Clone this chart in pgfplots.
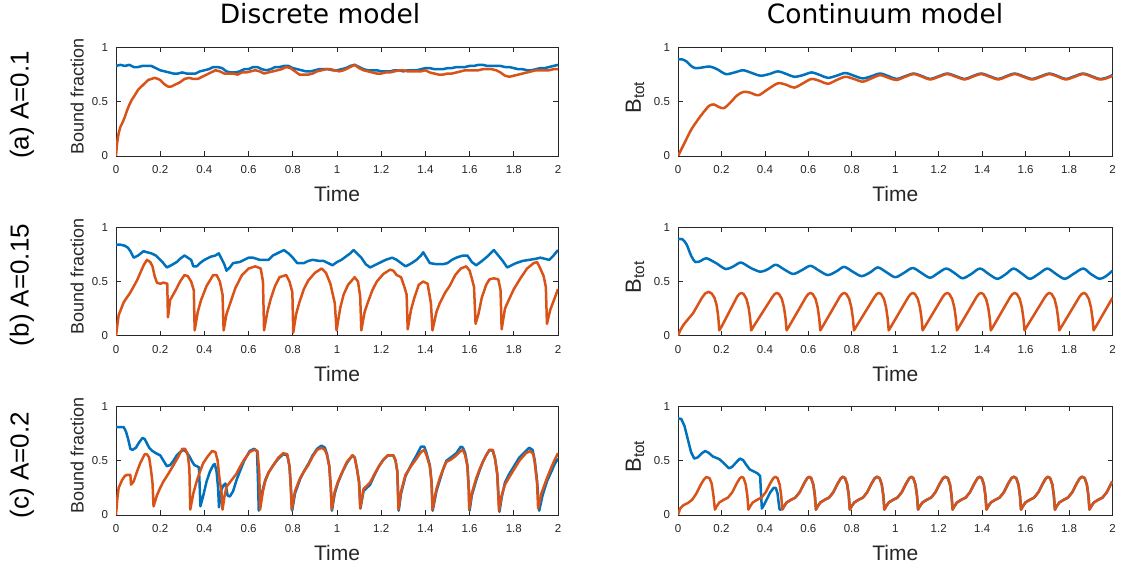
\documentclass[border=0pt]{standalone}
\usepackage{pgfplots}
\pgfplotsset{compat=1.18}
\usepackage{pgfplotstable}
\usepackage{fontspec}
\setmainfont{Liberation Sans}
\newfontfamily\dejavu{DejaVu Sans}
\definecolor{mblue}{RGB}{0,114,189}
\definecolor{morange}{RGB}{217,83,25}
\definecolor{axisgray}{RGB}{38,38,38}

\pgfplotstableread{
x y
0 0
0.01 0.06
0.025 0.09
0.045 0.11
0.065 0.14
0.085 0.20
0.105 0.28
0.12 0.33
0.13 0.35
0.145 0.34
0.155 0.29
0.163 0.18
0.17 0.05
0.178 0.08
0.19 0.115
0.21 0.14
0.23 0.16
0.25 0.21
0.27 0.29
0.285 0.34
0.295 0.352
0.302 0.34
0.312 0.28
0.319 0.18
0.324 0.05
0.332 0.08
0.344 0.115
0.364 0.14
0.384 0.16
0.404 0.21
0.424 0.29
0.439 0.34
0.449 0.352
0.458 0.34
0.468 0.28
0.475 0.18
0.48 0.05
0.488 0.08
0.5 0.115
0.52 0.14
0.54 0.16
0.56 0.21
0.58 0.29
0.595 0.34
0.605 0.352
0.613 0.34
0.623 0.28
0.63 0.18
0.635 0.05
0.643 0.08
0.655 0.115
0.675 0.14
0.695 0.16
0.715 0.21
0.735 0.29
0.75 0.34
0.76 0.352
0.769 0.34
0.779 0.28
0.786 0.18
0.791 0.05
0.799 0.08
0.811 0.115
0.831 0.14
0.851 0.16
0.871 0.21
0.891 0.29
0.906 0.34
0.916 0.352
0.928 0.34
0.938 0.28
0.945 0.18
0.95 0.05
0.958 0.08
0.97 0.115
0.99 0.14
1.01 0.16
1.03 0.21
1.05 0.29
1.065 0.34
1.075 0.352
1.083 0.34
1.093 0.28
1.1 0.18
1.105 0.05
1.113 0.08
1.125 0.115
1.145 0.14
1.165 0.16
1.185 0.21
1.205 0.29
1.22 0.34
1.23 0.352
1.242 0.34
1.252 0.28
1.259 0.18
1.264 0.05
1.272 0.08
1.284 0.115
1.304 0.14
1.324 0.16
1.344 0.21
1.364 0.29
1.379 0.34
1.389 0.352
1.398 0.34
1.408 0.28
1.415 0.18
1.42 0.05
1.428 0.08
1.44 0.115
1.46 0.14
1.48 0.16
1.5 0.21
1.52 0.29
1.535 0.34
1.545 0.352
1.557 0.34
1.567 0.28
1.574 0.18
1.579 0.05
1.587 0.08
1.599 0.115
1.619 0.14
1.639 0.16
1.659 0.21
1.679 0.29
1.694 0.34
1.704 0.352
1.713 0.34
1.723 0.28
1.73 0.18
1.735 0.05
1.743 0.08
1.755 0.115
1.775 0.14
1.795 0.16
1.815 0.21
1.835 0.29
1.85 0.34
1.86 0.352
1.872 0.34
1.882 0.28
1.889 0.18
1.894 0.05
1.902 0.08
1.914 0.115
1.934 0.14
1.954 0.16
1.974 0.21
1.994 0.29
2.0 0.31
}\ccorange

\pgfplotsset{
  panel/.style={
    width=442pt, height=108.5pt, scale only axis,
    xmin=0, xmax=2, ymin=0, ymax=1,
    xtick={0,0.2,0.4,0.6,0.8,1,1.2,1.4,1.6,1.8,2},
    ytick={0,0.5,1},
    tick align=inside, major tick length=5pt,
    axis line style={draw=axisgray, line width=0.8pt},
    every tick/.style={draw=axisgray, line width=0.8pt},
    tick label style={font=\fontsize{11.5}{13}\selectfont, text=axisgray},
    /pgf/number format/assume math mode=true,
    xticklabel style={yshift=-6pt},
    yticklabel style={xshift=-4.5pt},
    xlabel={Time},
    xlabel style={font=\fontsize{21}{24}\selectfont, text=axisgray, at={(axis description cs:0.5,0)}, anchor=center, yshift=-38pt},
    ylabel style={font=\fontsize{18}{20}\selectfont, text=axisgray, at={(axis description cs:-0.088,0.546)}, anchor=center},
    ylabel={Bound fraction},
    every axis plot/.append style={line width=2.5pt, line join=round},
  },
  rpanel/.style={panel, width=434.5pt,
    ylabel={B\textsubscript{tot}},
    ylabel style={font=\fontsize{22}{24}\selectfont, text=axisgray, at={(axis description cs:-0.099,0.54)}, anchor=center},
  },
}

\begin{document}
\begin{tikzpicture}
\path[use as bounding box] (0pt,0pt) rectangle (1127pt,570pt);

\node[font=\dejavu\fontsize{26.5}{30}\selectfont, anchor=base] at (320pt,546pt) {Discrete model};
\node[font=\dejavu\fontsize{26.5}{30}\selectfont, anchor=base] at (885pt,546pt) {Continuum model};

\node[font=\fontsize{26}{30}\selectfont, rotate=90, anchor=center] at (22pt,465pt) {(a) A=0.1};
\node[font=\fontsize{26}{30}\selectfont, rotate=90, anchor=center] at (22pt,285pt) {(b) A=0.15};
\node[font=\fontsize{26}{30}\selectfont, rotate=90, anchor=center] at (22pt,105pt) {(c) A=0.2};

% ---------- (a) discrete ----------
\begin{axis}[panel, at={(116pt,522.5pt)}, anchor=north west]
\addplot[mblue] coordinates {(0,0.83) (0.02,0.84) (0.04,0.83) (0.06,0.84) (0.08,0.82) (0.1,0.82) (0.12,0.83) (0.14,0.83) (0.16,0.83) (0.18,0.81) (0.2,0.79) (0.22,0.78) (0.24,0.77) (0.26,0.76) (0.28,0.76) (0.3,0.77) (0.32,0.76) (0.34,0.76) (0.36,0.76) (0.38,0.78) (0.4,0.79) (0.42,0.80) (0.44,0.82) (0.46,0.82) (0.48,0.81) (0.5,0.78) (0.52,0.77) (0.54,0.77) (0.56,0.78) (0.58,0.80) (0.6,0.80) (0.62,0.82) (0.64,0.82) (0.66,0.80) (0.68,0.79) (0.7,0.80) (0.72,0.82) (0.74,0.82) (0.76,0.83) (0.78,0.83) (0.8,0.81) (0.82,0.80) (0.84,0.79) (0.86,0.78) (0.88,0.78) (0.9,0.79) (0.92,0.80) (0.94,0.80) (0.96,0.80) (0.98,0.79) (1.0,0.79) (1.02,0.80) (1.04,0.81) (1.06,0.83) (1.08,0.84) (1.1,0.82) (1.12,0.80) (1.14,0.79) (1.16,0.79) (1.18,0.79) (1.2,0.78) (1.22,0.78) (1.24,0.78) (1.26,0.79) (1.28,0.79) (1.3,0.78) (1.32,0.79) (1.34,0.79) (1.36,0.79) (1.38,0.80) (1.4,0.81) (1.42,0.81) (1.44,0.80) (1.46,0.80) (1.48,0.80) (1.5,0.81) (1.52,0.81) (1.54,0.82) (1.56,0.82) (1.58,0.82) (1.6,0.83) (1.62,0.83) (1.64,0.84) (1.66,0.84) (1.68,0.83) (1.7,0.83) (1.72,0.83) (1.74,0.83) (1.76,0.82) (1.78,0.82) (1.8,0.81) (1.82,0.80) (1.84,0.80) (1.86,0.79) (1.88,0.79) (1.9,0.80) (1.92,0.81) (1.94,0.81) (1.96,0.82) (1.98,0.83) (2.0,0.84)};
\addplot[morange] coordinates {(0,0) (0.005,0.12) (0.012,0.21) (0.02,0.27) (0.03,0.31) (0.04,0.36) (0.05,0.42) (0.06,0.47) (0.072,0.52) (0.085,0.56) (0.1,0.61) (0.115,0.64) (0.13,0.67) (0.145,0.70) (0.16,0.71) (0.175,0.72) (0.19,0.71) (0.2,0.70) (0.21,0.68) (0.22,0.66) (0.235,0.64) (0.25,0.64) (0.27,0.66) (0.29,0.68) (0.31,0.71) (0.33,0.72) (0.35,0.71) (0.37,0.71) (0.39,0.73) (0.41,0.75) (0.43,0.77) (0.45,0.79) (0.47,0.78) (0.49,0.76) (0.51,0.76) (0.53,0.76) (0.55,0.75) (0.57,0.77) (0.59,0.77) (0.61,0.78) (0.63,0.79) (0.65,0.78) (0.67,0.76) (0.69,0.77) (0.71,0.78) (0.73,0.79) (0.75,0.80) (0.77,0.82) (0.79,0.81) (0.81,0.78) (0.83,0.75) (0.85,0.75) (0.87,0.75) (0.89,0.76) (0.91,0.78) (0.93,0.79) (0.95,0.80) (0.97,0.80) (0.99,0.79) (1.01,0.78) (1.03,0.79) (1.05,0.81) (1.07,0.83) (1.08,0.84) (1.1,0.81) (1.12,0.79) (1.14,0.78) (1.16,0.77) (1.18,0.76) (1.2,0.76) (1.22,0.77) (1.24,0.77) (1.26,0.78) (1.28,0.79) (1.3,0.79) (1.32,0.78) (1.34,0.78) (1.36,0.78) (1.38,0.78) (1.4,0.79) (1.42,0.77) (1.44,0.76) (1.46,0.75) (1.48,0.75) (1.5,0.76) (1.52,0.76) (1.54,0.77) (1.56,0.78) (1.58,0.79) (1.6,0.79) (1.62,0.79) (1.64,0.79) (1.66,0.80) (1.68,0.80) (1.7,0.80) (1.72,0.79) (1.74,0.77) (1.76,0.74) (1.78,0.73) (1.8,0.74) (1.82,0.75) (1.84,0.76) (1.86,0.77) (1.88,0.78) (1.9,0.79) (1.92,0.79) (1.94,0.79) (1.96,0.79) (1.98,0.80) (2.0,0.80)};
\end{axis}

% ---------- (a) continuum ----------
\begin{axis}[rpanel, at={(678pt,522.5pt)}, anchor=north west]
\addplot[mblue, smooth] coordinates {(0,0.89) (0.02,0.89) (0.04,0.87) (0.06,0.83) (0.08,0.81) (0.11,0.815) (0.145,0.825) (0.18,0.80) (0.22,0.755) (0.26,0.77) (0.30,0.79) (0.34,0.765) (0.38,0.74) (0.42,0.755) (0.46,0.78) (0.50,0.755) (0.535,0.73) (0.575,0.745) (0.615,0.77) (0.655,0.745) (0.69,0.72) (0.73,0.74) (0.77,0.765) (0.81,0.74) (0.85,0.715) (0.89,0.735) (0.93,0.76) (0.97,0.735) (1.005,0.71) (1.045,0.735) (1.085,0.76) (1.125,0.735) (1.16,0.71) (1.2,0.735) (1.24,0.76) (1.28,0.735) (1.32,0.71) (1.355,0.735) (1.395,0.76) (1.435,0.735) (1.475,0.71) (1.51,0.735) (1.55,0.76) (1.59,0.735) (1.63,0.71) (1.67,0.735) (1.71,0.76) (1.75,0.735) (1.785,0.71) (1.825,0.735) (1.865,0.76) (1.905,0.735) (1.94,0.71) (1.97,0.72) (2.0,0.745)};
\addplot[morange, smooth] coordinates {(0,0) (0.03,0.12) (0.06,0.24) (0.09,0.33) (0.12,0.41) (0.145,0.465) (0.165,0.475) (0.185,0.455) (0.21,0.44) (0.24,0.49) (0.27,0.555) (0.30,0.59) (0.33,0.585) (0.37,0.56) (0.41,0.61) (0.46,0.67) (0.50,0.655) (0.535,0.63) (0.575,0.67) (0.615,0.71) (0.655,0.69) (0.69,0.665) (0.73,0.70) (0.77,0.73) (0.81,0.71) (0.85,0.685) (0.89,0.715) (0.93,0.745) (0.97,0.72) (1.005,0.70) (1.045,0.73) (1.085,0.755) (1.125,0.73) (1.16,0.705) (1.2,0.73) (1.24,0.755) (1.28,0.73) (1.32,0.705) (1.355,0.73) (1.395,0.755) (1.435,0.73) (1.475,0.705) (1.51,0.73) (1.55,0.755) (1.59,0.73) (1.63,0.705) (1.67,0.73) (1.71,0.755) (1.75,0.73) (1.785,0.705) (1.825,0.73) (1.865,0.755) (1.905,0.73) (1.94,0.705) (1.97,0.715) (2.0,0.74)};
\end{axis}

% ---------- (b) discrete ----------
\begin{axis}[panel, at={(116pt,342.7pt)}, anchor=north west]
\addplot[mblue] coordinates {(0,0.84) (0.02,0.84) (0.04,0.83) (0.055,0.81) (0.065,0.78) (0.08,0.72) (0.1,0.74) (0.125,0.78) (0.14,0.77) (0.16,0.76) (0.18,0.74) (0.19,0.72) (0.21,0.68) (0.23,0.63) (0.25,0.65) (0.275,0.68) (0.29,0.71) (0.31,0.74) (0.325,0.72) (0.34,0.70) (0.35,0.64) (0.365,0.64) (0.38,0.67) (0.4,0.70) (0.43,0.73) (0.45,0.74) (0.465,0.76) (0.48,0.70) (0.49,0.66) (0.5,0.60) (0.515,0.63) (0.53,0.67) (0.56,0.68) (0.58,0.70) (0.6,0.72) (0.62,0.72) (0.65,0.70) (0.67,0.70) (0.69,0.70) (0.71,0.74) (0.73,0.76) (0.76,0.79) (0.78,0.76) (0.8,0.72) (0.82,0.67) (0.85,0.67) (0.87,0.69) (0.89,0.70) (0.92,0.69) (0.94,0.69) (0.96,0.67) (0.98,0.65) (1.0,0.68) (1.02,0.70) (1.04,0.73) (1.06,0.76) (1.075,0.79) (1.09,0.76) (1.11,0.72) (1.13,0.66) (1.15,0.63) (1.17,0.65) (1.19,0.67) (1.22,0.70) (1.25,0.72) (1.27,0.70) (1.29,0.67) (1.31,0.64) (1.33,0.66) (1.36,0.70) (1.38,0.74) (1.39,0.77) (1.405,0.72) (1.42,0.67) (1.45,0.66) (1.48,0.66) (1.5,0.67) (1.52,0.70) (1.54,0.72) (1.57,0.74) (1.59,0.74) (1.61,0.68) (1.63,0.65) (1.65,0.68) (1.68,0.73) (1.7,0.77) (1.71,0.79) (1.73,0.74) (1.75,0.69) (1.77,0.63) (1.79,0.65) (1.81,0.67) (1.84,0.69) (1.87,0.70) (1.9,0.71) (1.92,0.72) (1.94,0.71) (1.96,0.70) (1.98,0.74) (2.0,0.79)};
\addplot[morange] coordinates {(0,0) (0.012,0.19) (0.035,0.31) (0.065,0.40) (0.095,0.51) (0.125,0.65) (0.14,0.70) (0.155,0.68) (0.165,0.64) (0.175,0.55) (0.185,0.49) (0.2,0.48) (0.215,0.49) (0.232,0.48) (0.235,0.17) (0.245,0.33) (0.27,0.42) (0.29,0.50) (0.31,0.56) (0.325,0.55) (0.34,0.50) (0.352,0.42) (0.356,0.05) (0.37,0.22) (0.385,0.33) (0.41,0.46) (0.44,0.56) (0.455,0.56) (0.47,0.50) (0.482,0.38) (0.487,0.05) (0.5,0.20) (0.515,0.29) (0.54,0.44) (0.57,0.56) (0.6,0.62) (0.63,0.64) (0.655,0.62) (0.665,0.50) (0.67,0.05) (0.685,0.22) (0.7,0.34) (0.72,0.46) (0.74,0.54) (0.77,0.56) (0.785,0.50) (0.798,0.40) (0.802,0.03) (0.815,0.20) (0.83,0.31) (0.85,0.43) (0.87,0.51) (0.9,0.58) (0.93,0.62) (0.95,0.58) (0.97,0.48) (0.99,0.30) (0.998,0.05) (1.015,0.26) (1.03,0.38) (1.05,0.47) (1.08,0.54) (1.095,0.50) (1.105,0.36) (1.11,0.05) (1.125,0.22) (1.14,0.31) (1.16,0.42) (1.18,0.50) (1.21,0.57) (1.24,0.61) (1.255,0.60) (1.27,0.56) (1.29,0.54) (1.305,0.45) (1.315,0.38) (1.32,0.06) (1.335,0.24) (1.35,0.35) (1.37,0.47) (1.39,0.50) (1.41,0.48) (1.425,0.30) (1.432,0.05) (1.45,0.22) (1.465,0.30) (1.49,0.40) (1.51,0.46) (1.535,0.56) (1.56,0.62) (1.585,0.64) (1.6,0.60) (1.61,0.53) (1.62,0.45) (1.627,0.11) (1.64,0.20) (1.655,0.35) (1.675,0.47) (1.69,0.52) (1.71,0.53) (1.73,0.52) (1.74,0.42) (1.745,0.06) (1.76,0.25) (1.775,0.32) (1.8,0.43) (1.83,0.53) (1.86,0.62) (1.89,0.67) (1.905,0.68) (1.92,0.62) (1.935,0.55) (1.945,0.45) (1.95,0.11) (1.965,0.24) (1.98,0.32) (2.0,0.43)};
\end{axis}

% ---------- (b) continuum ----------
\begin{axis}[rpanel, at={(678pt,342.7pt)}, anchor=north west]
\addplot[mblue, smooth] coordinates {(0,0.89) (0.02,0.89) (0.04,0.84) (0.06,0.74) (0.08,0.68) (0.105,0.69) (0.13,0.715) (0.175,0.67) (0.22,0.615) (0.255,0.64) (0.29,0.675) (0.335,0.625) (0.38,0.59) (0.415,0.615) (0.45,0.655) (0.49,0.61) (0.53,0.57) (0.57,0.605) (0.61,0.645) (0.65,0.6) (0.69,0.56) (0.73,0.595) (0.765,0.635) (0.805,0.59) (0.845,0.55) (0.885,0.585) (0.92,0.63) (0.96,0.585) (1.0,0.54) (1.04,0.58) (1.08,0.625) (1.12,0.58) (1.16,0.535) (1.195,0.575) (1.235,0.62) (1.275,0.575) (1.31,0.53) (1.35,0.57) (1.39,0.62) (1.43,0.57) (1.47,0.525) (1.51,0.57) (1.545,0.62) (1.585,0.57) (1.62,0.525) (1.66,0.57) (1.70,0.62) (1.74,0.57) (1.78,0.525) (1.82,0.57) (1.865,0.62) (1.90,0.57) (1.94,0.525) (1.97,0.55) (2.0,0.60)};
\addplot[morange] coordinates {(0,0) (0.01,0.05) (0.025,0.10) (0.045,0.15) (0.07,0.21) (0.09,0.28) (0.11,0.35) (0.125,0.39) (0.14,0.405) (0.155,0.39) (0.168,0.35) (0.178,0.28) (0.185,0.18) (0.19,0.05)
(0.202,0.09) (0.272,0.36) (0.282,0.385) (0.292,0.395) (0.302,0.385) (0.315,0.34) (0.325,0.26) (0.332,0.16) (0.337,0.05)
(0.349,0.09) (0.435,0.36) (0.445,0.385) (0.455,0.395) (0.465,0.385) (0.478,0.34) (0.488,0.26) (0.495,0.16) (0.50,0.05)
(0.512,0.09) (0.59,0.36) (0.60,0.385) (0.61,0.395) (0.62,0.385) (0.633,0.34) (0.643,0.26) (0.65,0.16) (0.655,0.05)
(0.667,0.09) (0.745,0.36) (0.755,0.385) (0.765,0.395) (0.775,0.385) (0.788,0.34) (0.798,0.26) (0.805,0.16) (0.81,0.05)
(0.822,0.09) (0.905,0.36) (0.915,0.385) (0.925,0.395) (0.935,0.385) (0.948,0.34) (0.958,0.26) (0.965,0.16) (0.97,0.05)
(0.982,0.09) (1.061,0.36) (1.071,0.385) (1.081,0.395) (1.091,0.385) (1.104,0.34) (1.114,0.26) (1.121,0.16) (1.126,0.05)
(1.138,0.09) (1.219,0.36) (1.229,0.385) (1.239,0.395) (1.249,0.385) (1.262,0.34) (1.272,0.26) (1.279,0.16) (1.284,0.05)
(1.296,0.09) (1.375,0.36) (1.385,0.385) (1.395,0.395) (1.405,0.385) (1.418,0.34) (1.428,0.26) (1.435,0.16) (1.44,0.05)
(1.452,0.09) (1.53,0.36) (1.54,0.385) (1.55,0.395) (1.56,0.385) (1.573,0.34) (1.583,0.26) (1.59,0.16) (1.595,0.05)
(1.607,0.09) (1.69,0.36) (1.70,0.385) (1.71,0.395) (1.72,0.385) (1.733,0.34) (1.743,0.26) (1.75,0.16) (1.755,0.05)
(1.767,0.09) (1.848,0.36) (1.858,0.385) (1.868,0.395) (1.878,0.385) (1.891,0.34) (1.901,0.26) (1.908,0.16) (1.913,0.05)
(1.925,0.09) (2.0,0.35)};
\end{axis}

% ---------- (c) discrete ----------
\begin{axis}[panel, at={(116pt,163.5pt)}, anchor=north west]
\addplot[mblue] coordinates {(0,0.81) (0.02,0.81) (0.035,0.81) (0.045,0.77) (0.055,0.70) (0.065,0.61) (0.075,0.60) (0.09,0.62) (0.105,0.67) (0.12,0.71) (0.13,0.70) (0.14,0.66) (0.15,0.62) (0.165,0.59) (0.18,0.57) (0.2,0.55) (0.215,0.50) (0.23,0.45) (0.245,0.46) (0.26,0.50) (0.275,0.55) (0.29,0.58) (0.305,0.60) (0.32,0.58) (0.335,0.53) (0.345,0.49) (0.355,0.46) (0.365,0.45) (0.375,0.44) (0.378,0.30) (0.382,0.08) (0.395,0.18) (0.41,0.31) (0.425,0.40) (0.44,0.46) (0.447,0.47) (0.455,0.40) (0.462,0.25) (0.466,0.07) (0.475,0.22) (0.485,0.27) (0.495,0.29) (0.505,0.18) (0.515,0.17) (0.53,0.22) (0.545,0.32) (0.56,0.40) (0.58,0.50) (0.605,0.59) (0.625,0.61) (0.638,0.59) (0.642,0.35) (0.646,0.04) (0.66,0.20) (0.675,0.32) (0.69,0.39) (0.712,0.46) (0.735,0.52) (0.757,0.56) (0.775,0.55) (0.785,0.45) (0.79,0.30) (0.797,0.04) (0.81,0.20) (0.833,0.33) (0.85,0.40) (0.87,0.47) (0.89,0.55) (0.91,0.61) (0.93,0.64) (0.945,0.62) (0.955,0.56) (0.965,0.45) (0.972,0.25) (0.977,0.04) (0.99,0.20) (1.005,0.30) (1.025,0.40) (1.045,0.48) (1.07,0.55) (1.08,0.53) (1.09,0.43) (1.1,0.30) (1.106,0.06) (1.12,0.22) (1.135,0.25) (1.15,0.28) (1.17,0.37) (1.19,0.45) (1.21,0.51) (1.23,0.55) (1.255,0.55) (1.265,0.50) (1.273,0.40) (1.279,0.04) (1.29,0.20) (1.31,0.36) (1.335,0.46) (1.36,0.55) (1.38,0.63) (1.395,0.63) (1.405,0.57) (1.42,0.46) (1.428,0.30) (1.433,0.04) (1.45,0.22) (1.465,0.32) (1.48,0.42) (1.495,0.50) (1.515,0.53) (1.54,0.57) (1.56,0.63) (1.57,0.62) (1.58,0.57) (1.59,0.46) (1.596,0.25) (1.6,0.04) (1.61,0.18) (1.63,0.32) (1.645,0.41) (1.66,0.49) (1.675,0.55) (1.69,0.60) (1.705,0.59) (1.715,0.52) (1.725,0.38) (1.735,0.03) (1.745,0.16) (1.76,0.30) (1.78,0.38) (1.795,0.43) (1.825,0.53) (1.855,0.59) (1.87,0.62) (1.885,0.60) (1.895,0.50) (1.905,0.32) (1.915,0.04) (1.93,0.18) (1.95,0.31) (1.97,0.40) (1.985,0.47) (2.0,0.52)};
\addplot[morange] coordinates {(0,0) (0.006,0.15) (0.012,0.25) (0.027,0.32) (0.04,0.36) (0.05,0.37) (0.065,0.37) (0.068,0.28) (0.08,0.31) (0.095,0.40) (0.11,0.48) (0.13,0.56) (0.14,0.56) (0.15,0.53) (0.158,0.42) (0.165,0.30) (0.17,0.08) (0.185,0.18) (0.2,0.25) (0.215,0.31) (0.24,0.39) (0.26,0.46) (0.28,0.53) (0.3,0.61) (0.313,0.61) (0.325,0.55) (0.332,0.43) (0.336,0.05) (0.35,0.20) (0.365,0.31) (0.38,0.40) (0.395,0.48) (0.415,0.54) (0.435,0.59) (0.45,0.58) (0.46,0.50) (0.468,0.34) (0.478,0.20) (0.482,0.05) (0.49,0.16) (0.5,0.26) (0.515,0.30) (0.53,0.34) (0.545,0.38) (0.56,0.44) (0.58,0.51) (0.605,0.58) (0.625,0.60) (0.64,0.59) (0.648,0.40) (0.652,0.05) (0.665,0.22) (0.675,0.31) (0.69,0.39) (0.712,0.46) (0.735,0.53) (0.757,0.57) (0.775,0.56) (0.785,0.45) (0.79,0.30) (0.795,0.05) (0.81,0.22) (0.833,0.34) (0.85,0.40) (0.87,0.46) (0.89,0.54) (0.91,0.60) (0.93,0.62) (0.945,0.60) (0.955,0.55) (0.965,0.45) (0.972,0.25) (0.976,0.05) (0.99,0.22) (1.005,0.31) (1.025,0.40) (1.045,0.49) (1.07,0.55) (1.08,0.53) (1.09,0.43) (1.1,0.30) (1.105,0.06) (1.12,0.24) (1.135,0.27) (1.15,0.30) (1.17,0.38) (1.19,0.45) (1.21,0.51) (1.23,0.55) (1.255,0.55) (1.265,0.50) (1.273,0.40) (1.278,0.05) (1.29,0.22) (1.31,0.37) (1.335,0.45) (1.36,0.52) (1.38,0.58) (1.395,0.60) (1.405,0.55) (1.42,0.45) (1.428,0.30) (1.432,0.05) (1.45,0.24) (1.465,0.34) (1.48,0.42) (1.495,0.49) (1.515,0.51) (1.54,0.55) (1.56,0.59) (1.57,0.60) (1.58,0.55) (1.59,0.45) (1.596,0.25) (1.598,0.05) (1.61,0.20) (1.63,0.34) (1.645,0.42) (1.66,0.49) (1.675,0.55) (1.69,0.60) (1.705,0.60) (1.715,0.52) (1.725,0.38) (1.733,0.04) (1.745,0.18) (1.76,0.28) (1.78,0.35) (1.795,0.40) (1.825,0.50) (1.855,0.57) (1.875,0.59) (1.888,0.56) (1.895,0.48) (1.905,0.30) (1.91,0.06) (1.925,0.20) (1.95,0.34) (1.97,0.44) (1.985,0.51) (2.0,0.57)};
\end{axis}

% ---------- (c) continuum ----------
\begin{axis}[rpanel, at={(678pt,163.5pt)}, anchor=north west]
\addplot[mblue] coordinates {(0,0.89) (0.015,0.885) (0.03,0.82) (0.045,0.70) (0.06,0.58) (0.075,0.52) (0.09,0.53) (0.11,0.57) (0.125,0.59) (0.14,0.575) (0.16,0.54) (0.19,0.515) (0.21,0.48) (0.235,0.43) (0.25,0.445) (0.27,0.49) (0.285,0.52) (0.30,0.505) (0.315,0.46) (0.33,0.42) (0.35,0.40) (0.365,0.385) (0.378,0.36) (0.382,0.20) (0.386,0.06) (0.395,0.09) (0.41,0.15) (0.425,0.21) (0.44,0.25) (0.45,0.25) (0.458,0.20) (0.464,0.10) (0.468,0.05) (0.476,0.05)};
\addplot[mblue] table[x=x, y=y, restrict x to domain=0.479:2.01] {\ccorange};
\addplot[morange] table[x=x, y=y] {\ccorange};
\end{axis}
\end{tikzpicture}
\end{document}
